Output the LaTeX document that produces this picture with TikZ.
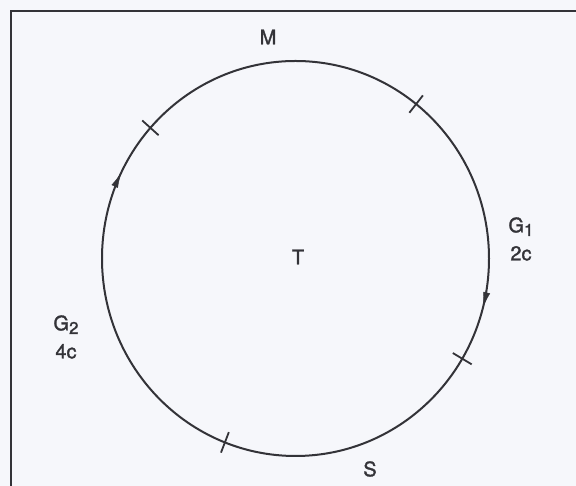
\documentclass[tikz,border=0pt]{standalone}
\usepackage{fontspec}
\setmainfont{TeX Gyre Heros}
\newfontfamily\lblfont[FakeBold=1.5]{TeX Gyre Heros}
\usepackage{tikz}
\usetikzlibrary{arrows.meta, positioning, shapes.geometric, calc, decorations.markings}
\usepackage{xcolor}
\definecolor{paperbg}{rgb}{0.965, 0.970, 0.985}
\definecolor{ink}{rgb}{0.20, 0.20, 0.22}

\begin{document}
\begin{tikzpicture}[x=1pt, y=1pt,
				orbit/.style={ellipse, draw=ink, line width=2pt, inner sep=0pt, outer sep=0pt, minimum width=387pt, minimum height=395pt},
				frameline/.style={draw=ink, line width=2.4pt},
				tick/.style={draw=ink, line width=1.8pt},
				lbl/.style={text=ink, font=\lblfont\fontsize{20}{28}\selectfont, inner sep=1pt, align=center},
				flow/.style={decoration={markings,
						mark=at position 0.428 with {\arrowreversed[ink]{Latex[length=15pt, width=7pt]}},
						mark=at position 0.960 with {\arrowreversed[ink]{Latex[length=15pt, width=7pt]}}},
					decorate}
			]
			% --- Page and frame ---
			\fill[paperbg] (0,0) rectangle (576,486);
			\useasboundingbox (0,0) rectangle (576,486);
			\coordinate (f_low) at (11,-5);
			\coordinate (f_corner) at (11,475);
			\coordinate (f_right) at (590,475);
			\draw[frameline] (f_low) -- (f_corner) -- (f_right);

			% --- Orbit around T ---
			\node[orbit] (orbit) at (295.5,227.5) {};
			\path[flow] (orbit.center) ellipse [x radius=193.5, y radius=197.5];

			% --- Division marks ---
			\foreach \ang in {52.7, 138.3, -31.4, -111.6}
				\draw[tick] ($(orbit.\ang)!11pt!(orbit.center)$) -- ($(orbit.\ang)!-11pt!(orbit.center)$);

			% --- Labels ---
			\node[lbl] (t_lbl) at (298,229) {T};
			\node[lbl] (m_lbl) at (268,449) {M};
			\node[lbl] (s_lbl) at (370,17) {S};
			\node[lbl] (g1_lbl) at (521,247) {G\raisebox{-0.35ex}{\fontsize{17}{17}\selectfont 1}\\2c};
			\node[lbl] (g2_lbl) at (66,149) {G\raisebox{-0.35ex}{\fontsize{17}{17}\selectfont 2}\\4c};

		\end{tikzpicture}
\end{document}
